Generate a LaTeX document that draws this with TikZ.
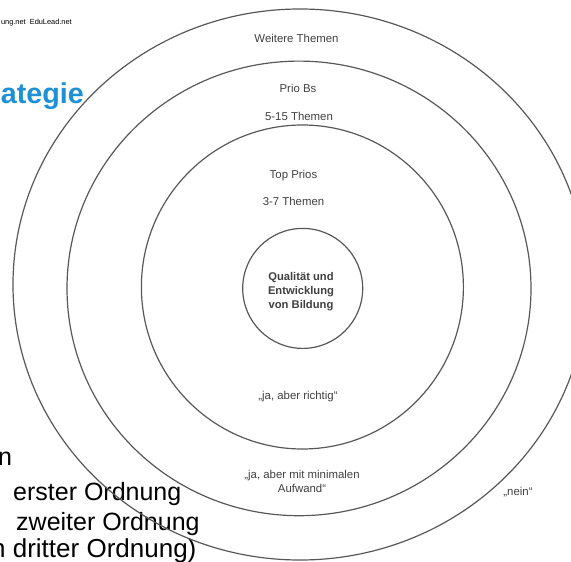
\documentclass[tikz,border=0pt]{standalone}
\usepackage{fontspec}
\setmainfont{Liberation Sans}
\definecolor{ringgray}{HTML}{585858}
\definecolor{labelgray}{HTML}{404040}
\definecolor{slideblue}{HTML}{1E90D6}
\tikzset{
  ring/.style={draw=ringgray, line width=1.2pt},
  ringlabel/.style={font=\fontsize{11.4}{13.7}\selectfont, text=labelgray, inner sep=0pt, anchor=base, align=center},
  bigtext/.style={font=\fontsize{25}{30}\selectfont, text=black, inner sep=0pt, anchor=base west},
}
\begin{document}
\begin{tikzpicture}[x=1pt,y=-1pt]
\useasboundingbox (0,0) rectangle (571,562);
\fill[white] (0,0) rectangle (571,562);
\clip (0,0) rectangle (571,562);

% background slide texts (partly hidden)
\node[inner sep=0pt, anchor=base east, font=\fontsize{7.4}{9}\selectfont] (src) at (72,24) {ung.net\ \ EduLead.net};
\node[inner sep=0pt, anchor=base east, font=\fontsize{28.7}{32}\selectfont\bfseries, text=slideblue] (title) at (84,103) {ategie};
\node[bigtext] (l1) at (-2,465) {n};
\node[bigtext] (l2) at (13,500) {erster Ordnung};
\node[bigtext] (l3) at (16,530) {zweiter Ordnung};
\node[bigtext, font=\fontsize{26}{30}\selectfont] (l4) at (-9,557) {n dritter Ordnung)};

% rings
\draw[ring] (300,284.5) ellipse [x radius=287pt, y radius=275.5pt];
\draw[ring] (299,288.4) ellipse [x radius=232pt, y radius=227.3pt];
\draw[ring] (302.4,287) ellipse [x radius=161pt, y radius=162pt];
\node[ring, circle, minimum size=120pt, inner sep=0pt] (core) at (302.7,288.4) {};
\node[inner sep=0pt, align=center, font=\fontsize{11.2}{14}\selectfont\bfseries, text=labelgray,
      anchor=base] (coretext) at (301,308) {Qualität und\\Entwicklung\\von Bildung};

% ring labels
\node[ringlabel] (weitere) at (296.5,42) {Weitere Themen};
\node[ringlabel] (priob) at (298,92) {Prio Bs};
\node[ringlabel] (prioban) at (299,120.5) {5-15 Themen};
\node[ringlabel] (top) at (293.5,178.5) {Top Prios};
\node[ringlabel] (topan) at (293.5,205.5) {3-7 Themen};
\node[ringlabel] (richtig) at (298,399.5) {„ja, aber richtig“};
\node[ringlabel] (minimal) at (302,492.5) {„ja, aber mit minimalen\\Aufwand“};
\node[ringlabel] (nein) at (518,495.5) {„nein“};
\end{tikzpicture}
\end{document}
